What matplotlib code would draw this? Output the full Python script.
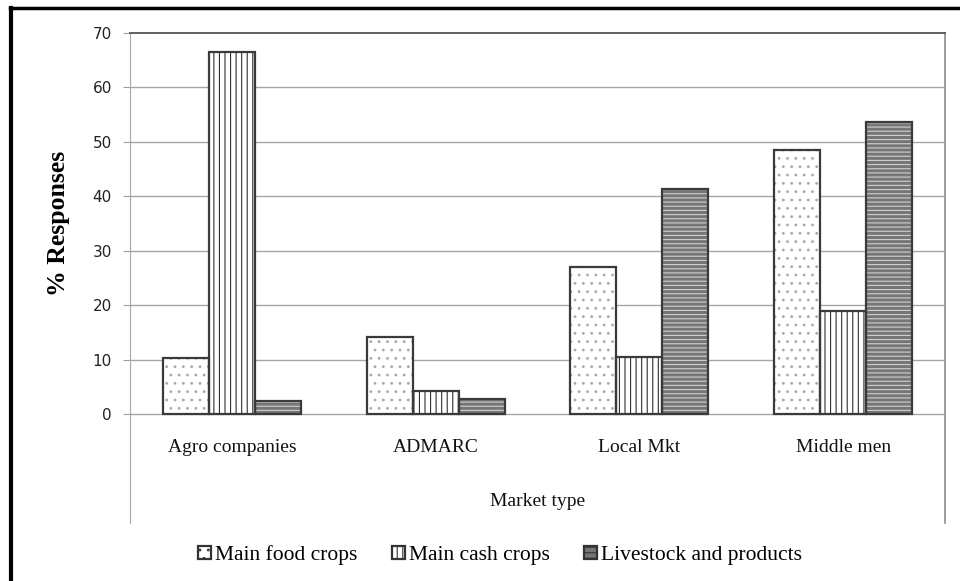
import matplotlib.pyplot as plt
import matplotlib.transforms as mtransforms
from matplotlib.patches import Patch
from matplotlib.lines import Line2D
import numpy as np

# data
markets = ['Agro companies', 'ADMARC', 'Local Mkt', 'Middle men']
series = ['Main food crops', 'Main cash crops', 'Livestock and products']
food_crops = [10.3, 14.2, 27.0, 48.5]
cash_crops = [66.5, 4.2, 10.5, 18.9]
livestock = [2.4, 2.8, 41.3, 53.7]
yticks = [0, 10, 20, 30, 40, 50, 60, 70]

serif = 'Liberation Serif'
plt.rcParams['hatch.linewidth'] = 0.8

fig = plt.figure(figsize=(9.6, 5.81), dpi=100)
ax = fig.add_axes([130 / 960, 58 / 581, 815 / 960, 490 / 581])

x = np.arange(len(markets))
w = 0.226
# (values, face, hatch, hatch colour)
styles = [
    (food_crops, 'white', '..', '#a8a8a8'),
    (cash_crops, 'white', '|||', '#303030'),
    (livestock, '#767676', '----', '#d0d0d0'),
]
for i, (vals, face, hatch, hcol) in enumerate(styles):
    pos = x + (i - 1) * w
    ax.bar(pos, vals, w, color=face, edgecolor=hcol, hatch=hatch, linewidth=0, zorder=2)
    ax.bar(pos, vals, w, fill=False, edgecolor='#3a3a3a', linewidth=1.6, zorder=3)

ax.set_xlim(-0.5, len(markets) - 0.5)
ax.set_ylim(-20, 70)
ax.set_yticks(yticks)
ax.set_yticklabels([str(t) for t in yticks], fontsize=11, color='#222222')
ax.tick_params(axis='y', length=5, color='#a0a0a0', pad=8)
ax.set_xticks([])
for t in yticks[:-1]:
    ax.axhline(t, color='#a6a6a6', linewidth=1.0, zorder=1)

ax.spines['bottom'].set_visible(False)
ax.spines['left'].set_color('#a8a8a8')
ax.spines['right'].set_color('#8c8c8c')
ax.spines['top'].set_color('#606060')
ax.spines['top'].set_linewidth(1.4)
ax.spines['right'].set_linewidth(1.2)

trans = mtransforms.blended_transform_factory(ax.transData, ax.transAxes)
for xi, name in zip(x, markets):
    ax.text(xi, 0.155, name, transform=trans, ha='center', va='center',
            fontsize=14, family=serif, color='#111111')
ax.text(0.5, 0.043, 'Market type', transform=ax.transAxes, ha='center', va='center',
        fontsize=14, family=serif, color='#111111')

ax.text(-0.088, 0.612, '% Responses', transform=ax.transAxes, rotation=90,
        ha='center', va='center', fontsize=18.5, fontweight='bold', family=serif)

handles = [
    Patch(facecolor='white', edgecolor='#333333', hatch='..', linewidth=1.6),
    Patch(facecolor='white', edgecolor='#333333', hatch='|||', linewidth=1.6),
    Patch(facecolor='#767676', edgecolor='#333333', hatch='---', linewidth=1.6),
]
fig.legend(handles, series, loc='center', bbox_to_anchor=(500 / 960, 26 / 581), ncol=3,
           frameon=False, prop={'family': serif, 'size': 15.5},
           handlelength=0.6, handleheight=0.6, handletextpad=0.2, columnspacing=1.6)

# outer chart border (only top and left show in the crop)
fig.add_artist(Line2D([10 / 960, 1.0], [1 - 8 / 581, 1 - 8 / 581], color='black', linewidth=2.5))
fig.add_artist(Line2D([11 / 960, 11 / 960], [0, 1 - 8 / 581], color='black', linewidth=3))

fig.savefig('out.png', dpi=100)
